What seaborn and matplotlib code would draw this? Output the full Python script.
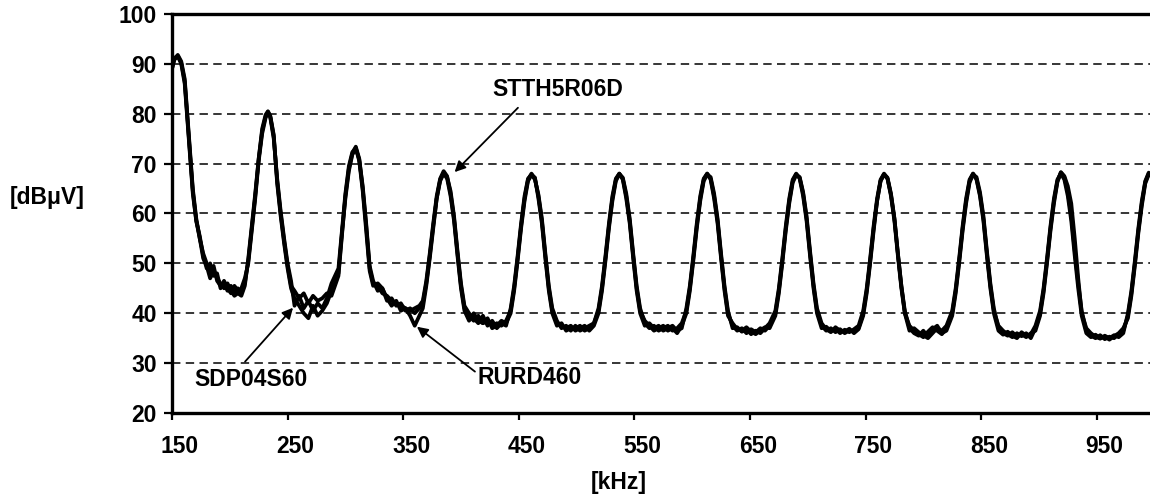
import pandas as pd
import seaborn as sns
import matplotlib.pyplot as plt
import matplotlib.transforms as mtransforms

# conducted EMI spectrum, three diodes ##########################

freq_khz = [
    # first peak + valley
    150, 152, 155, 158, 161, 165, 168, 171, 174, 177, 180, 183, 186, 189, 192, 195, 198, 201, 204, 207, 210, 213,
    # peak 233
    216, 219, 222, 225, 228, 231, 233, 235, 238, 241, 244, 247, 250, 253,
    256, 260, 264, 268, 272, 276, 280, 284, 288, 291,
    # peak 309
    294, 297, 300, 303, 306, 309, 312, 315, 318, 321, 324,
    328, 332, 336, 340, 344, 348, 352, 356, 360, 364,
    # peak 385
    367, 370, 373, 376, 379, 382, 385, 388, 391, 394, 397, 400, 403,
    407, 411, 415, 419, 423, 427, 431, 435, 439,
    # peak 461
    443, 446, 449, 452, 455, 458, 461, 464, 467, 470, 473, 476, 479,
    483, 487, 491, 495, 499, 503, 507, 511, 515,
    # peak 537
    519, 522, 525, 528, 531, 534, 537, 540, 543, 546, 549, 552, 555,
    559, 563, 567, 571, 575, 579, 583, 587, 591,
    # peak 613
    595, 598, 601, 604, 607, 610, 613, 616, 619, 622, 625, 628, 631,
    635, 639, 643, 647, 651, 655, 659, 663, 667,
    # peak 690
    672, 675, 678, 681, 684, 687, 690, 693, 696, 699, 702, 705, 708,
    712, 716, 720, 724, 728, 732, 736, 740, 744,
    # peak 766
    748, 751, 754, 757, 760, 763, 766, 769, 772, 775, 778, 781, 784,
    788, 792, 796, 800, 804, 808, 812, 816, 820,
    # peak 843
    825, 828, 831, 834, 837, 840, 843, 846, 849, 852, 855, 858, 861,
    865, 869, 873, 877, 881, 885, 889, 893, 897,
    # peak 919
    901, 904, 907, 910, 913, 916, 919, 922, 925, 928, 931, 934, 937,
    941, 945, 949, 953, 957, 961, 965, 969, 973,
    # peak 995
    977, 980, 983, 986, 989, 992, 995, 998, 1000,
]

stth5r06d = [
    89.0, 91.0, 91.8, 90.5, 87.0, 74.5, 65.0, 59.0, 55.0, 52.0, 50.0, 48.0, 49.5, 46.5, 45.5, 46.0, 44.5, 45.5, 44.0, 45.0, 44.0, 46.0,
    50.5, 57.0, 63.5, 71.0, 76.5, 79.5, 80.4, 79.5, 75.5, 66.5, 60.0, 54.5, 49.5, 45.5,
    44.5, 43.0, 44.0, 42.0, 43.5, 42.5, 43.0, 44.0, 43.5, 45.5,
    47.5, 55.5, 63.5, 69.0, 72.0, 73.4, 71.0, 65.0, 57.5, 49.0, 46.0,
    45.5, 44.0, 43.5, 42.5, 42.0, 41.5, 41.0, 40.5, 41.0, 41.5,
    42.5, 46.5, 52.0, 58.0, 63.5, 67.0, 68.5, 67.5, 64.0, 59.0, 52.0, 45.5, 41.0,
    39.5, 38.5, 39.5, 38.0, 38.5, 37.5, 38.0, 37.5, 38.5,
    40.5, 45.0, 51.0, 57.5, 63.0, 66.8, 68.0, 67.0, 63.5, 58.5, 51.5, 45.0, 40.5,
    38.0, 37.5, 37.0, 37.5, 36.5, 37.0, 37.5, 36.5, 37.5,
    40.0, 44.5, 50.5, 57.0, 62.5, 66.5, 67.9, 67.2, 64.0, 59.0, 52.0, 45.5, 41.0,
    38.0, 37.0, 37.5, 36.5, 37.0, 37.5, 36.5, 37.0, 38.0,
    40.5, 45.0, 51.0, 57.5, 63.0, 66.8, 68.0, 67.0, 63.5, 58.5, 51.5, 45.0, 40.0,
    37.5, 36.5, 37.0, 36.0, 36.8, 36.2, 37.0, 36.5, 37.5,
    40.0, 44.5, 50.5, 57.0, 62.5, 66.5, 67.9, 67.2, 64.0, 59.0, 52.0, 45.5, 40.5,
    37.5, 36.5, 37.0, 36.2, 36.8, 36.0, 36.6, 36.3, 37.0,
    40.0, 44.5, 50.5, 57.0, 62.5, 66.5, 67.9, 67.2, 64.0, 59.0, 52.0, 45.5, 40.5,
    37.0, 36.0, 35.5, 36.5, 35.3, 36.8, 37.5, 36.0, 36.5,
    39.5, 44.0, 50.0, 56.5, 62.0, 66.2, 67.8, 67.3, 64.3, 59.5, 52.5, 46.0, 41.0,
    37.0, 36.0, 35.5, 36.2, 35.3, 35.8, 35.2, 36.0, 36.5,
    39.5, 44.0, 50.0, 56.5, 62.0, 66.3, 68.2, 67.3, 64.3, 59.5, 52.5, 46.0, 40.5,
    36.5, 35.5, 35.0, 35.6, 34.8, 35.3, 35.0, 35.8, 36.5,
    39.5, 44.0, 50.0, 56.5, 62.0, 66.3, 68.0, 67.5, 66.0,
]

sdp04s60 = [
    89.5, 91.2, 91.5, 90.2, 86.5, 74.0, 64.5, 58.5, 55.5, 51.5, 49.0, 50.0, 47.5, 48.0, 45.0, 46.5, 45.0, 44.0, 45.5, 44.5, 45.0, 47.0,
    50.0, 56.5, 63.0, 70.5, 76.0, 79.2, 80.2, 79.3, 75.0, 67.0, 60.5, 55.0, 50.0, 46.5,
    41.5, 43.5, 41.0, 42.5, 40.5, 42.0, 41.0, 43.0, 46.0, 47.5,
    49.0, 56.5, 64.0, 69.5, 72.3, 73.2, 70.5, 64.5, 56.5, 48.5, 45.5,
    46.0, 45.0, 42.5, 43.0, 41.5, 42.0, 40.5, 41.0, 40.0, 41.0,
    42.0, 46.0, 51.5, 57.5, 63.0, 66.8, 68.2, 67.3, 64.5, 59.5, 52.5, 46.0, 41.5,
    40.0, 39.0, 38.0, 39.5, 37.5, 38.5, 37.0, 38.0, 37.5,
    41.0, 45.5, 51.5, 58.0, 63.5, 67.0, 67.8, 66.8, 63.8, 59.0, 52.0, 45.5, 41.0,
    38.5, 37.0, 37.5, 36.5, 37.5, 36.5, 37.0, 37.5, 38.0,
    40.5, 45.0, 51.0, 57.5, 63.0, 66.8, 68.0, 67.0, 63.5, 58.5, 51.5, 45.0, 40.5,
    38.5, 37.5, 36.5, 37.0, 37.5, 36.5, 37.0, 36.0, 37.5,
    40.0, 44.5, 50.5, 57.0, 62.5, 66.5, 67.8, 67.3, 64.0, 59.0, 52.0, 45.5, 40.5,
    37.0, 37.2, 36.3, 36.8, 35.8, 36.5, 36.0, 37.0, 38.0,
    40.5, 45.0, 51.0, 57.5, 63.0, 66.8, 68.0, 67.0, 63.5, 58.5, 51.5, 45.0, 40.0,
    37.0, 37.3, 36.4, 36.9, 36.0, 36.7, 36.2, 36.8, 37.5,
    40.5, 45.0, 51.0, 57.5, 63.0, 66.8, 68.0, 67.0, 63.5, 58.5, 51.5, 45.0, 40.0,
    37.5, 36.5, 35.8, 35.2, 36.3, 37.2, 36.5, 35.8, 37.0,
    40.0, 44.5, 50.5, 57.0, 62.5, 66.5, 68.0, 67.0, 63.8, 59.0, 52.0, 45.5, 40.5,
    37.5, 36.5, 35.8, 35.2, 36.0, 35.4, 36.0, 35.0, 37.0,
    40.0, 44.5, 50.5, 57.0, 62.5, 66.5, 68.3, 67.5, 65.5, 62.0, 55.0, 47.0, 40.0,
    37.0, 36.0, 35.3, 34.9, 35.5, 35.0, 35.6, 35.2, 36.0,
    40.0, 44.5, 50.5, 57.0, 62.5, 66.5, 68.2, 67.3, 65.5,
]

rurd460 = [
    89.0, 90.8, 91.6, 90.0, 86.0, 73.5, 64.0, 58.5, 55.0, 51.0, 49.5, 47.0, 48.5, 47.0, 46.0, 45.0, 46.0, 44.5, 43.5, 44.0, 43.5, 45.5,
    51.0, 57.5, 64.0, 71.0, 77.0, 79.8, 80.5, 79.6, 75.8, 66.0, 59.5, 54.0, 49.0, 45.0,
    43.0, 41.5, 40.0, 39.0, 41.5, 39.5, 40.5, 42.0, 44.5, 46.0,
    48.0, 56.0, 63.0, 68.5, 71.8, 73.0, 70.8, 65.5, 58.0, 49.5, 46.5,
    44.5, 45.0, 43.0, 41.5, 42.5, 40.5, 41.0, 39.5, 37.5, 39.5,
    41.0, 45.5, 51.0, 57.0, 63.0, 66.5, 68.0, 67.0, 63.5, 58.5, 51.5, 45.0, 40.5,
    38.5, 40.0, 38.5, 38.0, 39.0, 37.0, 37.5, 38.5, 38.0,
    40.0, 44.5, 50.5, 57.0, 62.5, 66.5, 67.7, 67.2, 63.0, 58.0, 51.0, 44.5, 40.0,
    37.5, 38.0, 36.5, 37.0, 37.0, 37.5, 36.5, 37.0, 38.0,
    41.0, 45.5, 51.5, 58.0, 63.5, 67.0, 68.0, 66.8, 63.0, 58.0, 51.0, 44.5, 40.0,
    37.5, 38.0, 37.0, 37.5, 36.5, 37.0, 37.5, 36.5, 37.0,
    41.0, 45.5, 51.5, 58.0, 63.5, 67.0, 68.0, 66.8, 63.0, 58.0, 51.0, 44.5, 39.5,
    38.0, 36.8, 36.5, 37.2, 36.3, 35.8, 36.6, 37.2, 37.0,
    39.5, 44.0, 50.0, 56.5, 62.0, 66.2, 67.7, 67.3, 64.3, 59.5, 52.5, 46.0, 41.0,
    38.0, 36.8, 36.2, 37.2, 36.5, 36.3, 36.9, 36.0, 36.8,
    39.5, 44.0, 50.0, 56.5, 62.5, 66.5, 67.8, 67.0, 63.8, 59.0, 52.0, 45.5, 40.0,
    36.5, 37.0, 36.2, 35.6, 35.0, 36.0, 37.0, 36.5, 37.5,
    40.5, 45.0, 51.0, 57.5, 63.0, 66.8, 68.0, 66.8, 63.5, 58.5, 51.5, 45.0, 40.0,
    36.5, 35.7, 36.3, 35.5, 35.0, 36.2, 35.5, 35.8, 37.5,
    40.5, 45.0, 51.0, 57.5, 63.0, 66.8, 68.0, 66.8, 63.5, 58.5, 51.5, 45.0, 39.5,
    36.0, 35.2, 35.7, 35.0, 35.3, 34.7, 35.4, 36.0, 37.0,
    39.0, 43.5, 49.5, 56.0, 61.5, 66.0, 67.8, 67.6, 66.3,
]

diodes = ['STTH5R06D', 'SDP04S60', 'RURD460']
x_ticks = [150, 250, 350, 450, 550, 650, 750, 850, 950]
y_ticks = [20, 30, 40, 50, 60, 70, 80, 90, 100]

df = pd.DataFrame({
    'kHz': freq_khz * 3,
    'dBuV': stth5r06d + sdp04s60 + rurd460,
    'diode': [d for d in diodes for _ in freq_khz],
})

# plot #################################
sns.set_style('white')
plt.rcParams['font.family'] = ['Liberation Sans', 'DejaVu Sans']
plt.rcParams['font.weight'] = 'bold'
for k in ['text.color', 'axes.labelcolor', 'xtick.color', 'ytick.color']:
    plt.rcParams[k] = 'black'
fs = 16.5

fig = plt.figure(figsize=(11.5, 4.97), dpi=100)
ax = fig.add_axes([172 / 1150, 1 - 413 / 497, (1154.5 - 172) / 1150, (413 - 14) / 497])

sns.lineplot(data=df, x='kHz', y='dBuV', units='diode', estimator=None,
             color='black', lw=2.7, sort=False, ax=ax, zorder=3)

ax.set_xlim(150, 1000)
ax.set_ylim(20, 100)
ax.set_xticks(x_ticks)
ax.set_yticks(y_ticks)
ax.set_xticklabels([str(t) for t in x_ticks], fontsize=fs, fontweight='bold')
ax.set_yticklabels([str(t) for t in y_ticks], fontsize=fs, fontweight='bold')

for v in y_ticks[1:-1]:
    ax.axhline(v, color='black', lw=1.1, ls=(0, (5.5, 3.5)), zorder=1)

for side in ['left', 'bottom', 'top']:
    ax.spines[side].set_color('black')
    ax.spines[side].set_linewidth(2.4)
ax.spines['right'].set_visible(False)

ax.tick_params(axis='y', direction='out', length=6, width=1.6, pad=5, left=True)
ax.tick_params(axis='x', direction='out', length=5, width=1.6, pad=11, bottom=True)

# excel puts the category labels a bit right of the ticks
offset = mtransforms.ScaledTranslation(0.08, 0, fig.dpi_scale_trans)
for lab in ax.get_xticklabels():
    lab.set_transform(lab.get_transform() + offset)

ax.set_xlabel('[kHz]', fontsize=fs, fontweight='bold', va='center', ha='center')
ax.set_ylabel('[dBμV]', fontsize=fs, fontweight='bold', rotation=0, va='center', ha='center')
ax.xaxis.set_label_coords(0.455, -0.173)
ax.yaxis.set_label_coords(-0.1267, 0.539)

# labels with arrows
arrow = dict(arrowstyle='-|>', color='black', lw=1.3, mutation_scale=16, shrinkA=0, shrinkB=0)
ax.annotate('', xy=(394.5, 68.3), xytext=(449.3, 81.2), arrowprops=arrow, zorder=4)
ax.text(484, 84.8, 'STTH5R06D', fontsize=fs, fontweight='bold', ha='center', va='center')
ax.annotate('', xy=(254.7, 41.1), xytext=(213.2, 30.3), arrowprops=arrow, zorder=4)
ax.text(218.3, 26.7, 'SDP04S60', fontsize=fs, fontweight='bold', ha='center', va='center')
ax.annotate('', xy=(361.9, 37.3), xytext=(412.1, 28.3), arrowprops=arrow, zorder=4)
ax.text(459.7, 27.1, 'RURD460', fontsize=fs, fontweight='bold', ha='center', va='center')

plt.savefig('out.png', dpi=100)
